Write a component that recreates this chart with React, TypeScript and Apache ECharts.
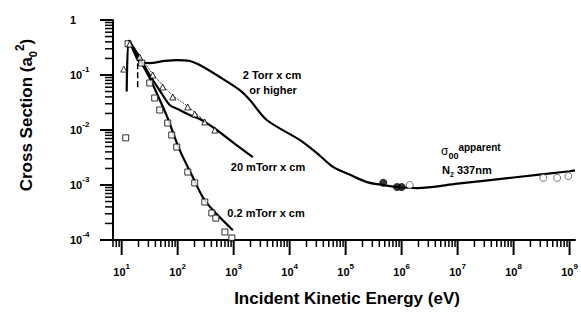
import React, { useEffect, useRef } from "react";
import * as echarts from "echarts";

const FONT = '"Liberation Sans", Arial, Helvetica, sans-serif';

// axis extents
const X_MIN = 7;
const X_MAX = 1.25e9;
const Y_MIN = 1e-4;
const Y_MAX = 1;

// tick values
const xMajorTicks = [1e1, 1e2, 1e3, 1e4, 1e5, 1e6, 1e7, 1e8, 1e9];
const xMinorDecades = [1e0, 1e1, 1e2, 1e3, 1e4, 1e5, 1e6, 1e7, 1e8];
const yMajorTicks = [1e-4, 1e-3, 1e-2, 1e-1, 1];
const yMinorDecades = [1e-4, 1e-3, 1e-2, 1e-1];
const minorMultipliers = [2, 3, 4, 5, 6, 7, 8, 9];

// curves [E (eV), cross section (a0^2)]
const torr2Curve: [number, number][] = [
  [12.3, 0.05], [13.5, 0.42], [17, 0.25], [21, 0.172], [31.6, 0.165], [59, 0.18],
  [96, 0.187], [165, 0.18], [248, 0.152], [566, 0.092], [1290, 0.053], [1950, 0.0351],
  [3900, 0.0152], [15100, 0.0066], [30700, 0.0038], [59600, 0.00213], [1.2e5, 0.00153],
  [2.4e5, 0.00113], [4.66e5, 0.001], [8.3e5, 0.00092], [1.9e6, 0.00088], [1e7, 0.00106],
  [1e8, 0.00137], [1e9, 0.00178], [1.25e9, 0.00184],
];
const mTorr20Curve: [number, number][] = [
  [13.5, 0.42], [21, 0.21], [31.6, 0.1], [48, 0.052], [72, 0.0285], [100, 0.024],
  [164, 0.0187], [248, 0.0158], [500, 0.01], [1050, 0.0056], [2200, 0.0032],
];
const mTorr02Curve: [number, number][] = [
  [13.5, 0.42], [21, 0.19], [31.6, 0.088], [48, 0.035], [64, 0.018], [109, 0.0043],
  [186, 0.0014], [281, 0.0006], [425, 0.00035], [968, 0.00015],
];
const dashedRise: [number, number][] = [[19.3, 0.06], [19.3, 0.19]];
const dottedTrend: [number, number][] = [
  [13.9, 0.4], [21, 0.22], [35.9, 0.105], [54, 0.065], [81.7, 0.042], [151, 0.027],
  [305, 0.0145], [461, 0.0105],
];

// measured points
const squarePoints: [number, number][] = [
  [11.8, 0.0072], [13, 0.37], [22.8, 0.165], [31.7, 0.0716], [38.9, 0.0382], [47.8, 0.0231],
  [66.5, 0.0134], [78.4, 0.0081], [96.4, 0.0049], [152, 0.00172], [202, 0.00109],
  [305, 0.00049], [408, 0.00031], [480, 0.00025], [697, 0.00014], [929, 0.000109],
];
const trianglePoints: [number, number][] = [
  [10.9, 0.128], [13.9, 0.366], [21, 0.212], [35.9, 0.1], [54, 0.0605], [81.7, 0.0398],
  [151, 0.0262], [202, 0.0195], [305, 0.014], [461, 0.01],
];
const filledCircles: [number, number][] = [[4.7e5, 0.0011], [8.3e5, 0.00092], [1.0e6, 0.00092]];
const openCircles: [number, number][] = [[1.4e6, 0.001], [3.4e8, 0.00135], [6e8, 0.00135], [9.5e8, 0.00145]];

const labelRich = {
  b: { fontFamily: FONT, fontWeight: "bold", fontSize: 11, color: "#000", lineHeight: 19 },
  s: { fontFamily: FONT, fontWeight: "bold", fontSize: 8, color: "#000", lineHeight: 10, verticalAlign: "top" },
};

const expOf = (v: number) => Math.round(Math.log10(v));

const textGraphics = [
  {
    type: "text",
    x: 26,
    y: 115,
    rotation: Math.PI / 2,
    style: {
      text: "{t|Cross Section (a}{sub|0}{sup|2}{t|)}",
      align: "center",
      verticalAlign: "middle",
      rich: {
        t: { fontFamily: FONT, fontWeight: "bold", fontSize: 17, color: "#000", lineHeight: 24 },
        sub: { fontFamily: FONT, fontWeight: "bold", fontSize: 11, color: "#000", verticalAlign: "bottom" },
        sup: { fontFamily: FONT, fontWeight: "bold", fontSize: 12, color: "#000", verticalAlign: "top" },
      },
    },
  },
  {
    type: "text",
    x: 347,
    y: 298,
    style: {
      text: "Incident Kinetic Energy (eV)",
      align: "center",
      verticalAlign: "middle",
      fontFamily: FONT,
      fontWeight: "bold",
      fontSize: 17,
      fill: "#000",
    },
  },
  {
    type: "text", x: 272, y: 75,
    style: { text: "2 Torr x cm", align: "center", verticalAlign: "middle", fontFamily: FONT, fontWeight: "bold", fontSize: 11, fill: "#000" },
  },
  {
    type: "text", x: 273, y: 90,
    style: { text: "or higher", align: "center", verticalAlign: "middle", fontFamily: FONT, fontWeight: "bold", fontSize: 11, fill: "#000" },
  },
  {
    type: "text", x: 268, y: 167,
    style: { text: "20 mTorr x cm", align: "center", verticalAlign: "middle", fontFamily: FONT, fontWeight: "bold", fontSize: 11, fill: "#000" },
  },
  {
    type: "text", x: 266, y: 213,
    style: { text: "0.2 mTorr x cm", align: "center", verticalAlign: "middle", fontFamily: FONT, fontWeight: "bold", fontSize: 11, fill: "#000" },
  },
  {
    type: "text", x: 441, y: 151,
    style: {
      text: "{s|σ}{sub|00}{sup|apparent}",
      align: "left",
      verticalAlign: "middle",
      rich: {
        s: { fontFamily: FONT, fontSize: 12, color: "#000", lineHeight: 18 },
        sub: { fontFamily: FONT, fontWeight: "bold", fontSize: 9, color: "#000", verticalAlign: "bottom" },
        sup: { fontFamily: FONT, fontWeight: "bold", fontSize: 10, color: "#000", verticalAlign: "top" },
      },
    },
  },
  {
    type: "text", x: 442, y: 170,
    style: {
      text: "{t|N}{sub|2}{t| 337nm}",
      align: "left",
      verticalAlign: "middle",
      rich: {
        t: { fontFamily: FONT, fontWeight: "bold", fontSize: 11, color: "#000", lineHeight: 16 },
        sub: { fontFamily: FONT, fontWeight: "bold", fontSize: 7, color: "#000", verticalAlign: "bottom" },
      },
    },
  },
];

export default function App() {
  const ref = useRef<HTMLDivElement>(null);
  useEffect(() => {
    if (!ref.current) return;
    const chart = echarts.init(ref.current, null, { renderer: "svg" });
    const xMinor: number[] = [];
    xMinorDecades.forEach((d) => minorMultipliers.forEach((m) => {
      const v = d * m;
      if (v >= X_MIN && v <= X_MAX) xMinor.push(v);
    }));
    const yMinor: number[] = [];
    yMinorDecades.forEach((d) => minorMultipliers.forEach((m) => yMinor.push(d * m)));

    const lineS = (name: string, data: [number, number][], width: number, type: string = "solid", smooth: any = 0.3) => ({
      name,
      type: "line",
      data,
      smooth,
      showSymbol: false,
      symbol: "none",
      lineStyle: { color: "#000", width, type },
      z: 3,
    });

    chart.setOption({
      animation: false,
      backgroundColor: "#fff",
      grid: { left: 113, right: 6, top: 20, bottom: 72 },
      xAxis: {
        type: "log",
        logBase: 10,
        min: X_MIN,
        max: X_MAX,
        splitLine: { show: false },
        axisLine: { show: true, lineStyle: { color: "#000", width: 2 } },
        axisTick: { show: false },
        axisLabel: {
          customValues: xMajorTicks,
          margin: 22,
          formatter: (v: number) => `{b|10}{s|${expOf(v)}}`,
          rich: labelRich,
        },
      },
      yAxis: {
        type: "log",
        logBase: 10,
        min: Y_MIN,
        max: Y_MAX,
        splitLine: { show: false },
        axisLine: { show: true, lineStyle: { color: "#000", width: 2 } },
        axisTick: { show: false },
        axisLabel: {
          customValues: yMajorTicks,
          align: "left",
          margin: 43,
          formatter: (v: number) => {
            const e = expOf(v);
            return e === 0 ? "{b|1}" : `{b|10}{s|${e}}`;
          },
          rich: labelRich,
        },
      },
      series: [
        lineS("2 Torr x cm or higher", torr2Curve, 2.2),
        lineS("20 mTorr x cm", mTorr20Curve, 2.2),
        lineS("0.2 mTorr x cm", mTorr02Curve, 2.2),
        lineS("threshold", dashedRise, 1.5, "dashed", false),
        lineS("trend", dottedTrend, 1, "dotted", false),
        {
          name: "0.2 mTorr data",
          type: "scatter",
          data: squarePoints,
          symbol: "rect",
          symbolSize: 6,
          itemStyle: { color: "#fff", borderColor: "#000", borderWidth: 1 },
          z: 4,
        },
        {
          name: "20 mTorr data",
          type: "scatter",
          data: trianglePoints,
          symbol: "triangle",
          symbolSize: 6,
          itemStyle: { color: "#fff", borderColor: "#000", borderWidth: 1 },
          z: 4,
        },
        {
          name: "apparent filled",
          type: "scatter",
          data: filledCircles,
          symbol: "circle",
          symbolSize: 8,
          itemStyle: { color: "#000" },
          z: 5,
        },
        {
          name: "apparent open",
          type: "scatter",
          data: openCircles,
          symbol: "circle",
          symbolSize: 7,
          itemStyle: { color: "#fff", borderColor: "#555", borderWidth: 1 },
          z: 4,
        },
      ],
    });

    // tick marks: positions come from the chart's own log scales
    const tickLines: any[] = [];
    const addX = (vals: number[], len: number, w: number) =>
      vals.forEach((v) => {
        const p = chart.convertToPixel({ gridIndex: 0 }, [v, Y_MIN]) as number[];
        if (!p || isNaN(p[0])) return;
        tickLines.push({
          type: "line",
          silent: true,
          z: 50,
          shape: { x1: p[0], y1: p[1], x2: p[0], y2: p[1] + len },
          style: { stroke: "#000", lineWidth: w },
        });
      });
    const addY = (vals: number[], len: number, w: number) =>
      vals.forEach((v) => {
        const p = chart.convertToPixel({ gridIndex: 0 }, [X_MIN, v]) as number[];
        if (!p || isNaN(p[1])) return;
        tickLines.push({
          type: "line",
          silent: true,
          z: 50,
          shape: { x1: p[0] - len, y1: p[1], x2: p[0], y2: p[1] },
          style: { stroke: "#000", lineWidth: w },
        });
      });
    addX(xMajorTicks, 15, 2);
    addX(xMinor, 7, 1.5);
    addY(yMajorTicks, 13, 2);
    addY(yMinor, 8, 1.5);

    chart.setOption({ graphic: [...textGraphics, ...tickLines] });

    return () => chart.dispose();
  }, []);
  return <div ref={ref} style={{ width: 581, height: 312, position: "absolute", left: 0, top: 0 }} />;
}
